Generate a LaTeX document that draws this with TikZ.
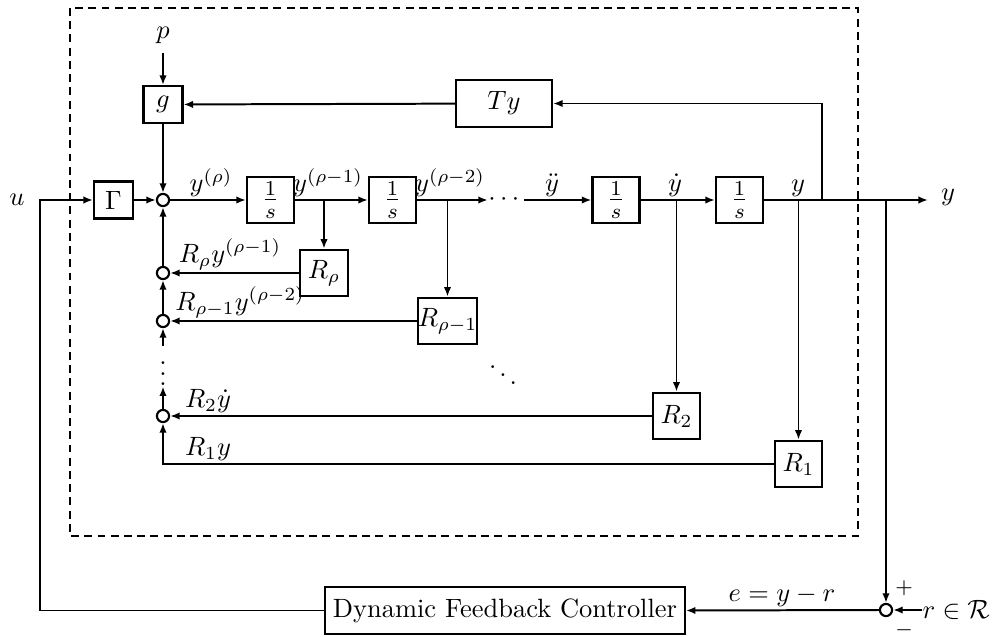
\documentclass[tikz,border=0pt]{standalone}
\usepackage{amsmath,amssymb}
\usetikzlibrary{arrows.meta}
\tikzset{
  blk/.style={draw,line width=0.8pt,inner sep=0pt,minimum height=17.6pt},
  intblk/.style={blk,minimum width=17.8pt,font=\large},
  sumj/.style={draw,circle,line width=0.8pt,inner sep=0pt,minimum size=4.6pt},
  sig/.style={-{Latex[length=3.6pt,width=2.8pt]},line width=0.75pt},
  lbl/.style={anchor=south,inner sep=1pt}
}

\begin{document}
\begin{tikzpicture}[x=0.378pt,y=-0.378pt]
  \useasboundingbox (0,0) rectangle (1005,637);
  \draw[line width=0.7pt,dash pattern=on 3pt off 2pt] (70,8) rectangle (858,536);
  % plant blocks
  \node[blk,minimum width=14.7pt,minimum height=14pt] (gam) at (113.5,200) {$\Gamma$};
  \node[blk,minimum width=14.7pt,minimum height=14pt] (g) at (163,104.5) {$g$};
  \node (p) at (163,35) {$p$};
  \node[blk,minimum width=36.3pt] (ty) at (504,103.5) {$Ty$};
  \node[intblk] (int1) at (270.5,200) {$\frac{1}{s}$};
  \node[intblk] (int2) at (392.5,200) {$\frac{1}{s}$};
  \node[inner sep=0pt] (hd) at (506,200) {$\cdots$};
  \node[intblk] (int3) at (616,200) {$\frac{1}{s}$};
  \node[intblk] (int4) at (739.5,200) {$\frac{1}{s}$};
  \node[blk,minimum width=18.1pt] (rr) at (324,273) {$R_\rho$};
  \node[blk,minimum width=20.8pt] (rr1) at (447.5,321) {$R_{\rho-1}$};
  \node[blk,minimum width=17.8pt] (r2) at (676.5,416) {$R_2$};
  \node[blk,minimum width=17.8pt] (r1) at (798.5,464) {$R_1$};
  \node (dd) at (503,367) {$\ddots$};
  % summing junctions
  \node[sumj] (s1) at (163,200) {};
  \node[sumj] (s2) at (163,273) {};
  \node[sumj] (s3) at (163,321) {};
  \node[inner sep=0pt] (vd) at (163,366) {$\vdots$};
  \node[sumj] (s4) at (163,416) {};
  \coordinate (tyfb) at (822,200);
  \coordinate (ybr) at (886,200);
  \coordinate (yout) at (928,200);
  \coordinate (uin) at (40,200);
  % signals
  \draw[sig] (p) -- (g);
  \draw[sig] (g) -- (s1);
  \draw[sig] (ty) -- (g);
  \draw[sig] (tyfb) |- (ty.east);
  \draw[sig] (gam) -- (s1);
  \draw[sig] (s1) -- (int1);
  \draw[sig] (int1) -- (int2);
  \draw[sig] (int2.east) -- (hd.west);
  \draw[sig] (hd.east) -- (int3.west);
  \draw[sig] (int3) -- (int4);
  \draw[sig] (int4.east) -- (yout);
  \draw[sig] (rr.north |- int1.east) -- (rr.north);
  \draw[sig] (rr1.north |- int2.east) -- (rr1.north);
  \draw[sig] (r2.north |- int3.east) -- (r2.north);
  \draw[sig] (r1.north |- int4.east) -- (r1.north);
  \draw[sig] (rr.west) -- (s2.east);
  \draw[sig] (rr1.west) -- (s3.east);
  \draw[sig] (r2.west) -- (s4.east);
  \draw[sig] (r1.west) -| (s4.south);
  \draw[sig] (s2) -- (s1);
  \draw[sig] (s3) -- (s2);
  \draw[sig] (vd.north) -- (s3.south);
  \draw[sig] (s4.north) -- (vd.south);
  % labels
  \node (u) at (17,200) {$u$};
  \node (ylbl) at (948,197) {$y$};
  \node[lbl] (l0) at (211,200) {$y^{(\rho)}$};
  \node[lbl] (l1) at (328,200) {$y^{(\rho-1)}$};
  \node[lbl] (l2) at (450,200) {$y^{(\rho-2)}$};
  \node[lbl] (l3) at (552,200) {$\ddot{y}$};
  \node[lbl] (l4) at (675,200) {$\dot{y}$};
  \node[lbl] (l5) at (798,200) {$y$};
  \node[lbl] (f0) at (230,273) {$R_\rho y^{(\rho-1)}$};
  \node[lbl] (f1) at (240,321) {$R_{\rho-1}y^{(\rho-2)}$};
  \node[lbl] (f2) at (208,416) {$R_2\dot{y}$};
  \node[lbl] (f3) at (208,464) {$R_1y$};
  % controller loop
  \node[blk,minimum width=136pt] (dfc) at (505,610.5) {Dynamic Feedback Controller};
  \node[sumj] (s5) at (886,610) {};
  \node[anchor=west,inner sep=0pt] (rin) at (922,610) {$r\in\mathcal{R}$};
  \node[font=\footnotesize] (plus) at (904,588) {$+$};
  \node[font=\footnotesize] (minus) at (904,630) {$-$};
  \node[lbl] (elbl) at (782,610) {$e=y-r$};
  \draw[sig] (ybr) -- (s5.north);
  \draw[sig] (rin.west) -- (s5.east);
  \draw[sig] (s5.west) -- (dfc.east);
  \draw[sig] (dfc.west) -| (uin) -- (gam.west);
\end{tikzpicture}
\end{document}
